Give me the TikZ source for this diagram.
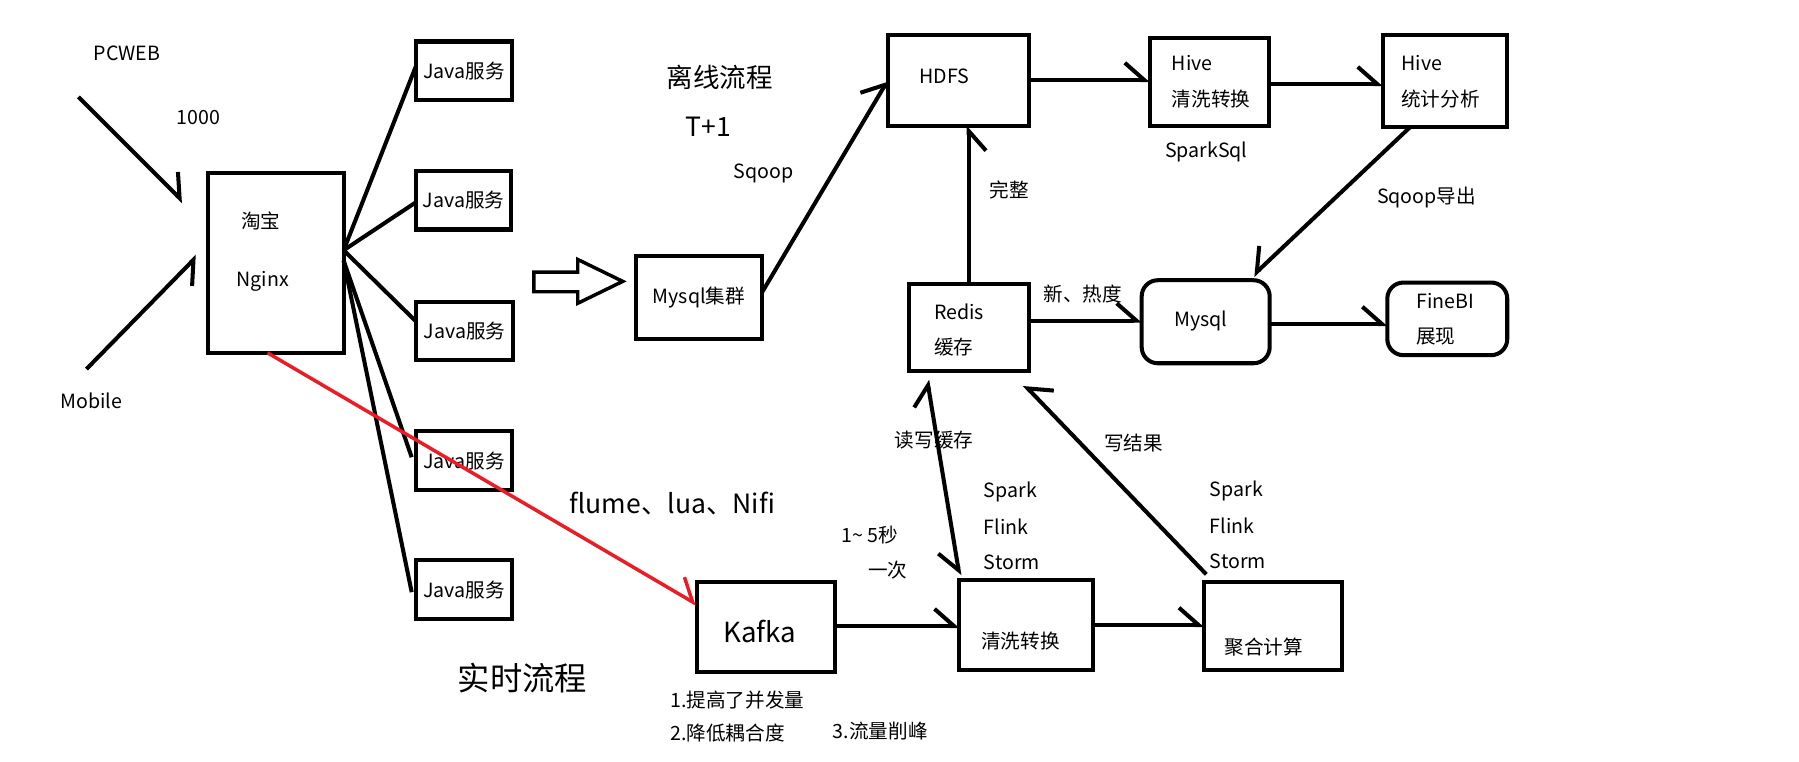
\documentclass[tikz,border=0pt]{standalone}
\usepackage{fontspec}
\setmainfont{Noto Sans CJK SC}
\usetikzlibrary{arrows.meta,calc}
\definecolor{pred}{RGB}{237,28,36}
\tikzset{
  box/.style={draw,line width=3.5pt,inner sep=0pt,outer sep=0pt},
  rbox/.style={box,rounded corners=14pt},
  txt/.style={inner sep=0pt,font=\fontsize{17pt}{20pt}\selectfont},
  bigtxt/.style={inner sep=0pt,font=\fontsize{23pt}{26pt}\selectfont},
  hugetxt/.style={inner sep=0pt,font=\fontsize{28pt}{32pt}\selectfont},
  ln/.style={line width=3.5pt},
  bL/.style={ln,-{Straight Barb[harpoon,length=17pt,width=30pt]}},
  bR/.style={ln,-{Straight Barb[harpoon,swap,length=17pt,width=30pt]}},
}
\begin{document}
\begin{tikzpicture}[x=1pt,y=-1pt]
\useasboundingbox[fill=white] (0,0) rectangle (1560,660);

% left inputs
\node[txt] (pcweb) at (110,46) {PCWEB};
\node[txt] (n1000) at (172,102) {1000};
\node[txt] (mobile) at (79,348) {Mobile};
\coordinate (pcs) at (68,84);
\coordinate (pce) at (159,175);
\coordinate (mos) at (75,320);
\coordinate (moe) at (171,222);
\draw[bL] (pcs) -- (pce);
\draw[bR] (mos) -- (moe);

% nginx
\node[box,minimum width=118pt,minimum height=156pt] (nginx) at (239,228) {};
\node[txt] (tb) at (226,192) {淘宝};
\node[txt] (ngx) at (228,244) {Nginx};

% java services
\node[box,txt,minimum width=83pt,minimum height=51pt] (java1) at (402.5,61.5) {Java服务};
\node[box,txt,minimum width=83pt,minimum height=51pt] (java2) at (402,173.5) {Java服务};
\node[box,txt,minimum width=84pt,minimum height=50pt] (java3) at (403,287) {Java服务};
\node[box,txt,minimum width=83pt,minimum height=51pt] (java4) at (402.5,399.5) {Java服务};
\node[box,txt,minimum width=83pt,minimum height=51pt] (java5) at (402.5,511.5) {Java服务};
\coordinate (nx1) at ([yshift=11pt]nginx.east);
\coordinate (nx2) at ([yshift=2pt]nginx.east);
\draw[ln] (nx1) -- ([yshift=5pt]java1.west);
\draw[ln] (nx1) -- ([yshift=-2pt]java2.west);
\draw[ln] (nx1) -- ([yshift=8pt]java3.west);
\draw[ln] (nx2) -- ([xshift=-4pt,yshift=3pt]java4.west);
\draw[ln] (nx2) -- ([xshift=-4pt,yshift=-2pt]java5.west);

% offline flow
\node[bigtxt] (lx) at (624,67) {离线流程};
\node[bigtxt] (t1) at (614,110) {T+1};
\node[txt] (sq) at (662,150) {Sqoop};
\node[box,txt,minimum width=109pt,minimum height=72pt] (mysqlc) at (606,258) {Mysql集群};
\draw[line width=3pt] (463,236) -- (501,236) -- (501,225) -- (540,244) -- (501,263) -- (501,253) -- (463,253) -- cycle;

\node[box,minimum width=122pt,minimum height=79pt] (hdfs) at (831,69.5) {};
\node[txt] (hdfst) at (819,66) {HDFS};
\draw[bL] ([yshift=4pt]mysqlc.east) -- (hdfs.west);

\node[box,minimum width=103pt,minimum height=76pt] (hive1) at (1048.5,71) {};
\node[txt,anchor=west] (hive1a) at (1016,55) {Hive};
\node[txt,anchor=west] (hive1b) at (1016,86) {清洗转换};
\node[txt] (sparksql) at (1046,132) {SparkSql};
\draw[bL] (hdfs.east) -- (hdfs.east -| hive1.west);

\node[box,minimum width=108pt,minimum height=80pt] (hive2) at (1253,70) {};
\node[txt,anchor=west] (hive2a) at (1215,55) {Hive};
\node[txt,anchor=west] (hive2b) at (1215,86) {统计分析};
\draw[bL] ([yshift=-2pt]hive1.east) -- ([yshift=-2pt]hive1.east -| hive2.west);

\node[rbox,minimum width=111pt,minimum height=72pt] (mysql) at (1045.5,279) {};
\node[txt,anchor=west] (mysqlt) at (1018,278) {Mysql};
\draw[bR] ([xshift=-30pt]hive2.south) -- ([xshift=41pt,yshift=4pt]mysql.north);
\node[txt] (sqexp) at (1237,171) {Sqoop导出};

\node[rbox,minimum width=104pt,minimum height=63pt] (finebi) at (1255,276.5) {};
\node[txt,anchor=west] (finebia) at (1228,261) {FineBI};
\node[txt,anchor=west] (finebib) at (1228,292) {展现};
\draw[bL] ([yshift=-2pt]mysql.east) -- ([yshift=-2pt]mysql.east -| finebi.west);

\node[box,minimum width=104pt,minimum height=75pt] (redis) at (840,284) {};
\node[txt,anchor=west] (redisa) at (810,270) {Redis};
\node[txt,anchor=west] (redisb) at (810,301) {缓存};
\draw[bR] (redis.north) -- (redis.north |- hdfs.south);
\node[txt] (wz) at (875,165) {完整};
\draw[bL] ([yshift=6pt]redis.east) -- ([yshift=6pt]redis.east -| mysql.west);
\node[txt] (xrd) at (939,255) {新、热度};

% realtime flow
\node[box,minimum width=120pt,minimum height=78pt] (kafka) at (664,544) {};
\node[inner sep=0pt,font=\fontsize{24pt}{28pt}\selectfont] (kafkat) at (659,548) {Kafka};
\draw[pred,line width=3pt,-{Straight Barb[harpoon,length=17pt,width=30pt]}] ([xshift=-7pt]nginx.south) -- ([yshift=20pt]kafka.west);
\node[bigtxt] (flume) at (583,437) {flume、lua、Nifi};
\node[hugetxt] (ss) at (453,588) {实时流程};

\node[txt,anchor=west] (k1) at (581,607) {1.提高了并发量};
\node[txt,anchor=west] (k2) at (581,636) {2.降低耦合度};
\node[txt,anchor=west] (k3) at (722,634) {3.流量削峰};

\node[box,minimum width=116pt,minimum height=78pt] (clean) at (890,542) {};
\node[txt] (cleant) at (885,556) {清洗转换};
\draw[bL] ([yshift=1pt]kafka.east) -- ([yshift=1pt]kafka.east -| clean.west);

\node[box,minimum width=120pt,minimum height=76pt] (agg) at (1104,543) {};
\node[txt] (aggt) at (1096,561) {聚合计算};
\draw[bL] (clean.east) -- (clean.east -| agg.west);

\node[txt,anchor=west] (s1a) at (853,427) {Spark};
\node[txt,anchor=west] (s1b) at (853,457) {Flink};
\node[txt,anchor=west] (s1c) at (853,488) {Storm};
\node[txt,anchor=west] (s2a) at (1049,426) {Spark};
\node[txt,anchor=west] (s2b) at (1049,456) {Flink};
\node[txt,anchor=west] (s2c) at (1049,487) {Storm};
\node[txt] (sec) at (754,464) {1\textasciitilde{} 5秒};
\node[txt] (once) at (770,494) {一次};

\draw[ln,{Straight Barb[harpoon,length=17pt,width=30pt]}-{Straight Barb[harpoon,swap,length=17pt,width=30pt]}] ([xshift=-36pt,yshift=-8pt]redis.south) -- ([yshift=4pt]clean.north west);
\node[txt] (dxhc) at (810,382) {读写缓存};
\draw[bR] ([xshift=2pt,yshift=7pt]agg.north west) -- ([xshift=-4pt,yshift=-12pt]redis.south east);
\node[txt] (xjg) at (983,384) {写结果};
\end{tikzpicture}
\end{document}
